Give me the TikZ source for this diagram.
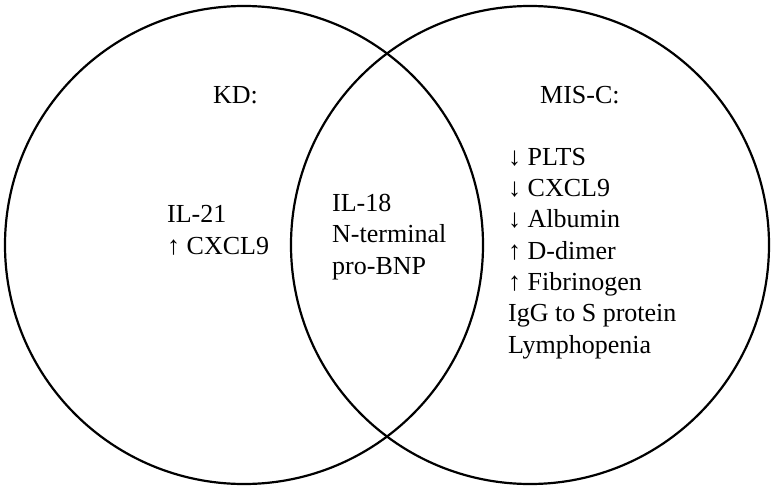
\documentclass[tikz,border=0pt]{standalone}
\usepackage{fontspec}
\setmainfont{Liberation Serif}
\begin{document}
\begin{tikzpicture}[x=1pt,y=-1pt,
  ring/.style={draw=black,line width=2.2pt},
  lbl/.style={anchor=base west,inner sep=0pt,font=\fontsize{26}{31.3}\selectfont,align=left}]
\useasboundingbox (0,0) rectangle (774,490);
\node[ring,circle,minimum size=478pt,inner sep=0pt] (kd) at (244,245) {};
\node[ring,circle,minimum size=478pt,inner sep=0pt] (misc) at (530,245) {};
\node[lbl] (kdt) at (213,103) {KD:};
\node[lbl] (misct) at (540,103) {MIS-C:};
\node[lbl] (kdl) at (167,254) {IL-21\\↑ CXCL9};
\node[lbl] (both) at (332,274) {IL-18\\N-terminal\\pro-BNP};
\node[lbl] (miscl) at (508,353) {↓ PLTS\\↓ CXCL9\\↓ Albumin\\↑ D-dimer\\↑ Fibrinogen\\IgG to S protein\\Lymphopenia};
\end{tikzpicture}
\end{document}
